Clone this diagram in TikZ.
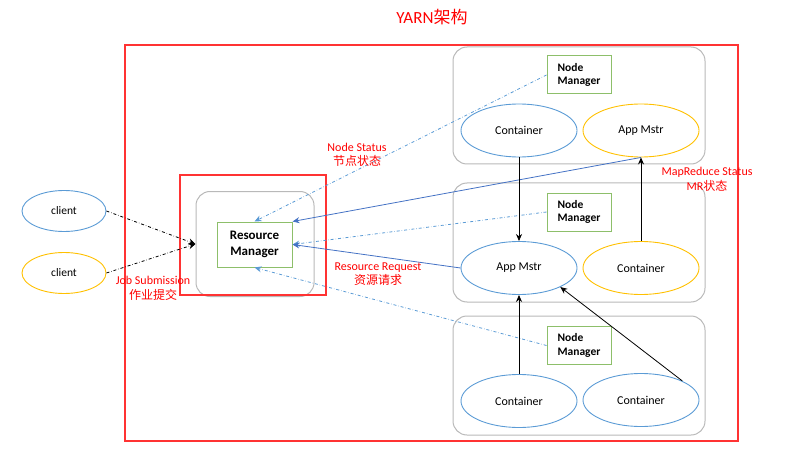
\documentclass[tikz,border=0pt]{standalone}
\usepackage{fontspec}
\setmainfont{Carlito}
\newfontfamily\cjk{Noto Sans CJK SC}
\usetikzlibrary{shapes.geometric}
\usetikzlibrary{arrows.meta}
\definecolor{lineblue}{HTML}{5B9BD5}
\definecolor{darkblue}{HTML}{4472C4}
\definecolor{gold}{HTML}{FFC000}
\definecolor{leaf}{HTML}{8DBF6A}
\definecolor{boxred}{HTML}{FF3333}

\begin{document}
\begin{tikzpicture}[x=1pt,y=-1pt,
  frame/.style={draw=gray!55,line width=1pt,rounded corners=14pt,minimum width=252pt,inner sep=0pt},
  mgr/.style={draw=leaf,line width=1pt,font=\bfseries\fontsize{11.5}{13.5}\selectfont,align=left,inner sep=0pt,minimum width=64pt,minimum height=38pt},
  pod/.style={ellipse,draw=#1,line width=0.9pt,minimum width=116pt,minimum height=53pt,inner sep=0pt,font=\fontsize{12}{14}\selectfont},
  client/.style={ellipse,draw=#1,line width=0.9pt,minimum width=84pt,minimum height=41pt,inner sep=0pt,font=\fontsize{11.5}{13}\selectfont},
  note/.style={text=red,align=center,font=\fontsize{12}{14.5}\selectfont},
  tip/.style={-{Stealth[length=7pt,width=6pt]}},
  hb/.style={lineblue,dash dot,line width=0.8pt,tip},
  req/.style={darkblue,line width=0.8pt,tip},
  ctl/.style={black,line width=0.8pt,tip}]
\useasboundingbox (0,0) rectangle (805,457);

\node[text=red,font=\fontsize{17}{20}\selectfont] (title) at (432,17) {YARN{\cjk 架构}};

% gray node frames
\node[frame,minimum height=117pt] (hostA) at (579,105.5) {};
\node[frame,minimum height=119pt] (hostB) at (579,242.5) {};
\node[frame,minimum height=119pt] (hostC) at (579,375.5) {};
\node[draw=gray!55,line width=1pt,rounded corners=14pt,inner sep=0pt,minimum width=118pt,minimum height=105pt] (rmhost) at (255,244) {};

\draw[boxred,line width=2.5pt] (125,45) rectangle (738,441);
\draw[boxred,line width=2.5pt] (180,175) rectangle (326,295);

% resource manager and clients
\node[mgr,align=center,font=\bfseries\fontsize{13}{16}\selectfont,minimum width=75pt,minimum height=45pt] (rm) at (254.5,244.5) {Resource\\Manager};
\node[client=lineblue] (cli1) at (64,211) {client};
\node[client=gold] (cli2) at (64,273) {client};

% node managers and containers
\node[mgr] (nm1) at (579,75) {Node\\Manager};
\node[mgr] (nm2) at (579,212) {Node\\Manager};
\node[mgr] (nm3) at (579,345.5) {Node\\Manager};
\node[pod=lineblue] (cont1) at (519,130.5) {Container};
\node[pod=gold] (am1) at (641,130.5) {App Mstr};
\node[pod=lineblue] (am2) at (519,268) {App Mstr};
\node[pod=gold] (cont2) at (641,268) {Container};
\node[pod=lineblue] (cont3) at (519,401) {Container};
\node[pod=lineblue] (cont4) at (641,400) {Container};

% job submission
\draw[black,dash dot,line width=0.8pt,tip] (cli1.east) -- (rmhost.west);
\draw[black,dash dot,line width=0.8pt,tip] (cli2.east) -- (rmhost.west);

% heartbeats and requests
\draw[hb] (nm1.west) -- (rm.north);
\draw[hb] (nm2.west) -- (rm.east);
\draw[hb] (nm3.west) -- (rm.south);
\draw[req] (am1.south) -- (rm.north east);
\draw[req] (am2.west) -- (rm.east);

% container traffic
\draw[ctl] (cont1.south) -- (am2.north);
\draw[ctl] (cont2.north) -- (am1.south);
\draw[ctl] (cont3.north) -- (am2.south);
\draw[ctl] (cont4.north east) -- (am2.south east);

% labels
\node[note] (lblnode) at (357,155) {Node Status\\{\cjk 节点状态}};
\node[note] (lblmr) at (707,179.5) {MapReduce Status\\MR{\cjk 状态}};
\node[note] (lblreq) at (378,274) {Resource Request\\{\cjk 资源请求}};
\node[note,font=\fontsize{12}{15}\selectfont] (lbljob) at (153,288) {Job Submission\\{\cjk 作业提交}};
\end{tikzpicture}
\end{document}
